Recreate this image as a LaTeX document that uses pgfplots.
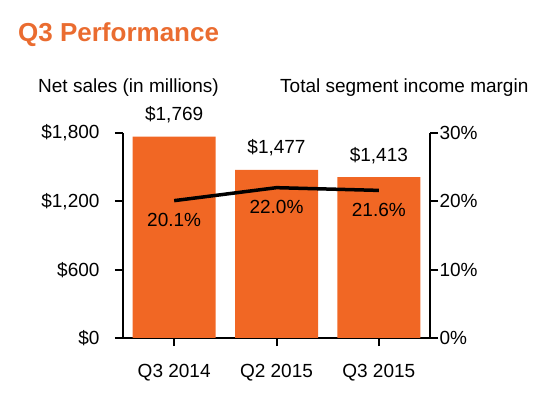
\documentclass[border=0pt]{standalone}
\usepackage{pgfplots}
\pgfplotsset{compat=1.18}
\usepackage{fontspec}
\setmainfont{Liberation Sans}
\definecolor{barorange}{RGB}{241,103,36}
\definecolor{titleorange}{RGB}{234,108,48}
\begin{document}
\begin{tikzpicture}
\useasboundingbox (0,0) rectangle (553bp,393bp);
\node[anchor=base west, inner sep=0, text=titleorange, font=\fontsize{26bp}{30bp}\selectfont\bfseries] at (18bp,351bp) {Q3 Performance};
\node[anchor=base west, inner sep=0, font=\fontsize{19bp}{22bp}\selectfont] at (38bp,300bp) {Net sales (in millions)};
\node[anchor=base west, inner sep=0, font=\fontsize{19bp}{22bp}\selectfont] at (280bp,300bp) {Total segment income margin};
\begin{axis}[
  at={(123bp,55bp)}, anchor=south west,
  scale only axis, width=307bp, height=205bp,
  xmin=-0.5, xmax=2.5, ymin=0, ymax=1800,
  axis y line*=left, axis x line*=bottom,
  axis line style={line width=2bp, black},
  tick align=outside, major tick length=8bp,
  every tick/.style={line width=2bp, black},
  xtick={0,1,2}, xticklabels={Q3 2014, Q2 2015, Q3 2015},
  ytick={0,600,1200,1800}, yticklabels={{\$0},{\$600},{\$1,200},{\$1,800}},
  tick label style={font=\fontsize{19bp}{22bp}\selectfont},
  yticklabel style={xshift=-12bp},
  xticklabel style={yshift=-15bp},
  nodes near coords, point meta=explicit symbolic,
  every node near coord/.append style={anchor=base, yshift=16bp, font=\fontsize{19bp}{22bp}\selectfont, text=black},
]
\addplot[ybar, bar width=83bp, fill=barorange, draw=none] coordinates {
  (0,1769) [\$1,769]
  (1,1477) [\$1,477]
  (2,1413) [\$1,413]
};
\end{axis}
\begin{axis}[
  at={(123bp,55bp)}, anchor=south west,
  scale only axis, width=307bp, height=205bp,
  xmin=-0.5, xmax=2.5, ymin=0, ymax=30,
  axis y line*=right, axis x line=none,
  axis line style={line width=2bp, black},
  tick align=outside, major tick length=8bp,
  every tick/.style={line width=2bp, black},
  ytick={0,10,20,30}, yticklabels={0\%,10\%,20\%,30\%},
  tick label style={font=\fontsize{19bp}{22bp}\selectfont},
  yticklabel style={xshift=-2bp},
  nodes near coords, point meta=explicit symbolic,
  every node near coord/.append style={anchor=base, yshift=-26bp, font=\fontsize{19bp}{22bp}\selectfont, text=black},
]
\addplot[black, line width=3.5bp, mark=none] coordinates {
  (0,20.1) [20.1\%]
  (1,22.0) [22.0\%]
  (2,21.6) [21.6\%]
};
\end{axis}
\end{tikzpicture}
\end{document}
